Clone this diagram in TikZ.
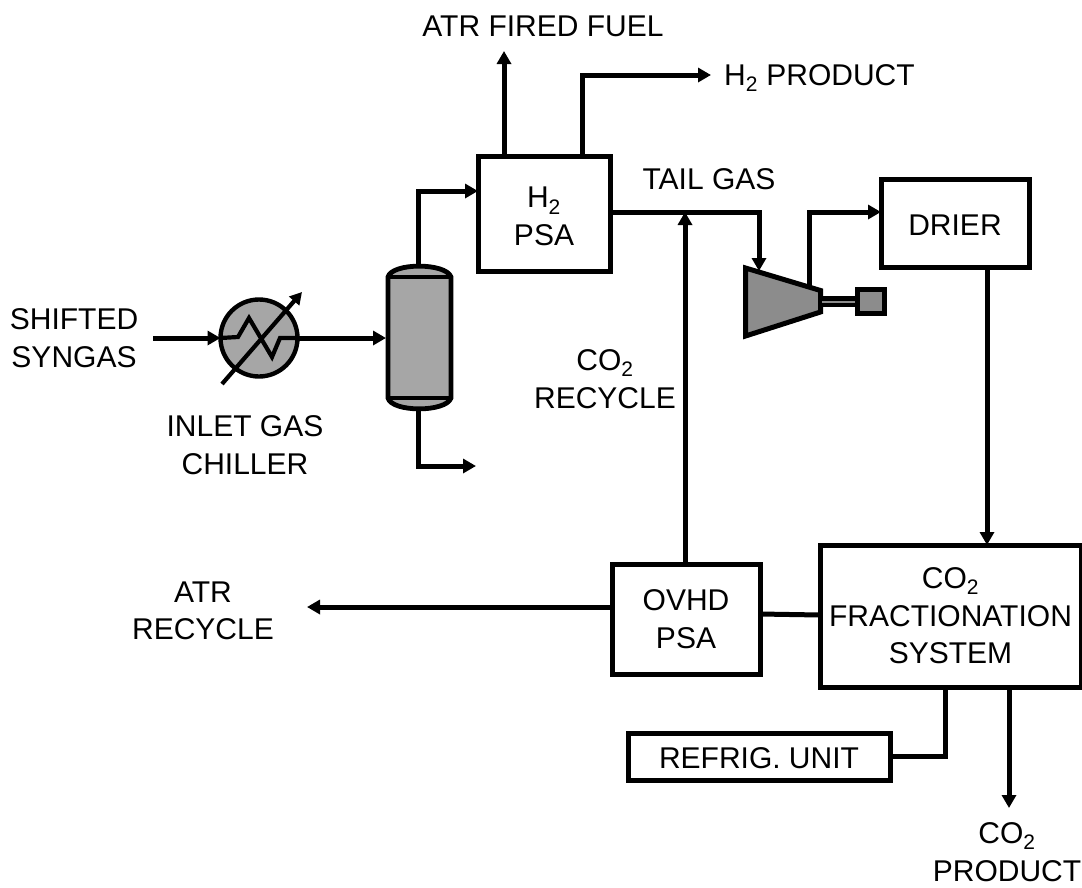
\documentclass[tikz,border=0pt]{standalone}
\usepackage{fontspec}
\setmainfont{Liberation Sans}
\usetikzlibrary{arrows.meta}
\definecolor{eqgray}{RGB}{166,166,166}
\definecolor{compgray}{RGB}{140,140,140}
\tikzset{
  box/.style={draw=black,line width=5pt,fill=white,inner sep=0pt,outer sep=0pt,anchor=north west,align=center,font=\lab},
  lab/.style={font=\lab,align=center,inner sep=0pt,text=black},
  pipe/.style={draw=black,line width=5pt,line join=miter},
  flow/.style={pipe,-{Triangle[length=13pt,width=14pt]}},
}
\newcommand{\lab}{\fontsize{30}{37.5}\selectfont}
\newcommand{\subtwo}{\textsubscript{2}}
\begin{document}
\begin{tikzpicture}[x=1pt,y=-1pt]
\useasboundingbox (0,0) rectangle (1082,887);
% boxes
\node[box,minimum width=132pt,minimum height=115pt,label={[lab,yshift=-3pt]center:{H\subtwo\\PSA}}] (psa) at (478,156) {};
\node[box,minimum width=148pt,minimum height=88pt,label={[lab,yshift=-2pt]center:DRIER}] (drier) at (881,179) {};
\node[box,minimum width=148pt,minimum height=110pt] (ovhd) at (612,564) {OVHD\\PSA};
\node[box,minimum width=261pt,minimum height=142pt] (frac) at (820,545) {CO\subtwo\\FRACTIONATION\\SYSTEM};
\node[box,minimum width=262pt,minimum height=47pt,label={[lab,yshift=-2pt]center:REFRIG. UNIT}] (refrig) at (628,733) {};
% column
\filldraw[fill=eqgray,draw=black,line width=4.8pt] (388,277) .. controls (392,262.5) and (446,262.5) .. (451,277) -- (451,398) .. controls (446,412.5) and (392,412.5) .. (388,398) -- cycle;
\draw[line width=4.8pt] (388,277) -- (451,277) (388,398) -- (451,398);
\coordinate (coltop) at (418,266);
\coordinate (colbot) at (418,410);
\coordinate (colin) at (386,338);
% chiller
\node[circle,draw=black,fill=eqgray,line width=4.4pt,minimum size=77pt,inner sep=0pt,outer sep=0pt] (chiller) at (259,338) {};
\draw[line width=4.2pt,line join=miter] (chiller.west) -- (238,337) -- (249,318) -- (272,357) -- (280,338) -- (chiller.east);
\coordinate (adjA) at (222,384);
\coordinate (adjB) at (302,292);
\draw[line width=4.2pt,-{Triangle[length=12pt,width=13pt]}] (adjA) -- (adjB);
% compressor
\filldraw[fill=compgray,draw=black,line width=5pt,line join=miter] (745.5,268) -- (820.5,290.5) -- (820.5,312) -- (745.5,336) -- cycle;
\coordinate (compin) at (759,271);
\coordinate (compout) at (809,288);
\fill[black] (822,296) rectangle (857,307);
\fill[compgray] (822,300.5) rectangle (857,302.5);
\filldraw[fill=compgray,draw=black,line width=5pt] (857.5,289.5) rectangle (884.5,313.5);
% labels
\node[lab] (l1) at (74,338) {SHIFTED\\SYNGAS};
\node[lab] (l2) at (245,445) {INLET GAS\\CHILLER};
\node[lab] (l3) at (543,26) {ATR FIRED FUEL};
\node[lab,anchor=west] (l4) at (724,78) {H\subtwo\ PRODUCT};
\node[lab] (l5) at (709,179) {TAIL GAS};
\node[lab] (l6) at (605,379) {CO\subtwo\\RECYCLE};
\node[lab] (l7) at (203,611) {ATR\\RECYCLE};
\node[lab] (l8) at (1007,852) {CO\subtwo\\PRODUCT};
% free ends
\coordinate (insyn) at (153,338);
\coordinate (fuelend) at (504,51);
\coordinate (h2end) at (711,75);
\coordinate (drainend) at (476,466);
\coordinate (atrend) at (307,607);
\coordinate (prodend) at (1009,808);
\coordinate (tailj) at (685,212);
% connectors
\draw[flow] (insyn) -- (chiller.west);
\draw[flow] (chiller.east) -- (colin);
\draw[flow] (coltop) |- (psa.west |- 0,191);
\draw[flow] (colbot) |- (drainend);
\draw[flow] (psa.north -| fuelend) -- (fuelend);
\draw[flow] (582,156) |- (h2end);
\draw[pipe] (psa.east |- tailj) -- (tailj);
\draw[flow] (tailj) -| (compin);
\draw[flow] (compout) |- (drier.west |- 0,212);
\draw[flow] (drier.south -| 987,0) -- (987,545);
\draw[flow] (ovhd.north -| tailj) -- (tailj);
\draw[flow] (ovhd.west |- 0,607) -- (atrend);
\draw[pipe] (ovhd.east |- 0,614) -- (frac.west |- 0,615);
\draw[pipe] (945,687) |- (refrig.east |- 0,756);
\draw[flow] (prodend |- frac.south) -- (prodend);
\end{tikzpicture}
\end{document}
